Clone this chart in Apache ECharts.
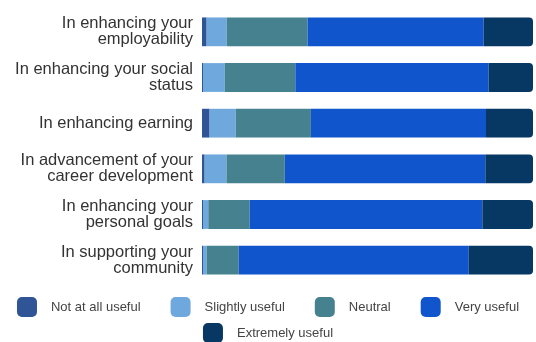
<!DOCTYPE html>
<html>
<head>
<meta charset="utf-8">
<script src="https://cdn.jsdelivr.net/npm/echarts@6/dist/echarts.min.js"></script>
<style>
  html, body { margin: 0; padding: 0; background: #fff; }
  #chart { width: 536px; height: 342px; }
</style>
</head>
<body>
<div id="chart"></div>
<script>
// Survey statements (top to bottom)
const categories = [
  'In enhancing your\nemployability',
  'In enhancing your social\nstatus',
  'In enhancing earning',
  'In advancement of your\ncareer development',
  'In enhancing your\npersonal goals',
  'In supporting your\ncommunity'
];

// Share of responses (%) per answer, in category order
const notAtAllUseful   = [1.4, 0.3, 2.3, 0.8, 0.3, 0.3];
const slightlyUseful   = [6.1, 6.6, 7.9, 6.6, 1.6, 1.1];
const neutral          = [24.4, 21.3, 22.7, 17.6, 12.5, 9.7];
const veryUseful       = [53.2, 58.4, 52.9, 60.6, 70.3, 69.5];
const extremelyUseful  = [14.9, 13.4, 14.2, 14.4, 15.3, 19.4];

const seriesNames = ['Not at all useful', 'Slightly useful', 'Neutral', 'Very useful', 'Extremely useful'];
const seriesValues = [notAtAllUseful, slightlyUseful, neutral, veryUseful, extremelyUseful];
const colors = ['#2f5597', '#6fa8dc', '#45818e', '#1155cc', '#073763'];

const chart = echarts.init(document.getElementById('chart'), null, { renderer: 'canvas' });

const series = seriesNames.map((name, i) => ({
  name: name,
  type: 'bar',
  stack: 'total',
  barWidth: '63%',
  data: seriesValues[i],
  itemStyle: {
    color: colors[i],
    borderRadius: i === seriesNames.length - 1 ? [0, 4, 4, 0] : 0
  },
  emphasis: { disabled: true }
}));

const legendText = { fontFamily: 'Liberation Sans, Arial, sans-serif', fontSize: 13, color: '#444', padding: [0, 0, 0, 9] };

chart.setOption({
  animation: false,
  color: colors,
  textStyle: { fontFamily: 'Liberation Sans, Arial, sans-serif' },
  grid: { left: 202, right: 3, top: 9, height: 274 },
  xAxis: {
    type: 'value',
    min: 0,
    max: 100,
    show: false
  },
  yAxis: {
    type: 'category',
    inverse: true,
    data: categories,
    axisLine: { show: false },
    axisTick: { show: false },
    axisLabel: {
      margin: 9,
      fontSize: 16.5,
      lineHeight: 16,
      color: '#333',
      align: 'right'
    }
  },
  legend: [
    {
      data: seriesNames.slice(0, 4),
      left: 'center',
      top: 292,
      itemWidth: 20,
      itemHeight: 20,
      itemGap: 30,
      icon: 'roundRect',
      textStyle: legendText,
      selectedMode: false
    },
    {
      data: seriesNames.slice(4),
      left: 'center',
      top: 318,
      itemWidth: 20,
      itemHeight: 20,
      icon: 'roundRect',
      textStyle: legendText,
      selectedMode: false
    }
  ],
  series: series
});
</script>
</body>
</html>
